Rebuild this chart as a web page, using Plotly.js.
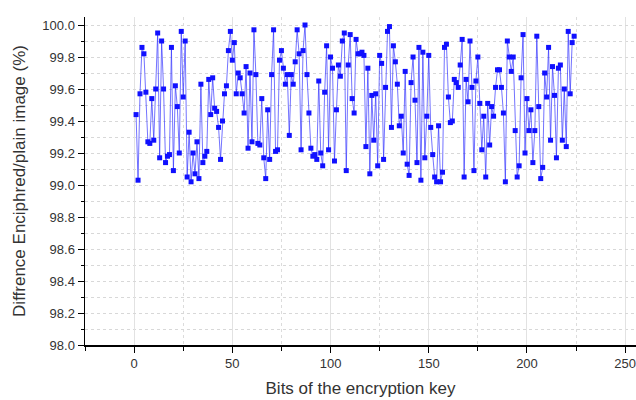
<!DOCTYPE html>
<html>
<head>
<meta charset="utf-8">
<script src="https://cdn.plot.ly/plotly-3.0.1.min.js"></script>
<style>html,body{margin:0;padding:0;background:#fff;}#chart{width:636px;height:400px;}</style>
</head>
<body>
<div id="chart"></div>
<script>
// Difference values (%) for key bits 1..224
const values = [
  99.44, 99.03, 99.57, 99.86, 99.82, 99.58, 99.27, 99.26, 99.54, 99.28, 99.60, 99.95, 99.17, 99.90, 99.60, 99.14, 99.18, 99.19, 99.86, 99.09, 99.62, 99.49, 99.20, 99.96,
  99.55, 99.90, 99.05, 99.33, 99.02, 99.20, 99.07, 99.27, 99.04, 99.63, 99.14, 99.18, 99.21, 99.66, 99.44, 99.67, 99.48, 99.46, 99.36, 99.16, 99.40, 99.57, 99.62, 99.84,
  99.96, 99.78, 99.89, 99.57, 99.70, 99.67, 99.57, 99.45, 99.74, 99.23, 99.70, 99.27, 99.97, 99.69, 99.26, 99.25, 99.54, 99.17, 99.04, 99.47, 99.16, 99.69, 99.97, 99.21,
  99.22, 99.78, 99.84, 99.73, 99.63, 99.69, 99.31, 99.69, 99.63, 99.77, 99.97, 99.82, 99.22, 99.84, 100.0, 99.69, 99.45, 99.23, 99.18, 99.19, 99.16, 99.65, 99.20,
  99.12, 99.58, 99.87, 99.22, 99.80, 99.73, 99.15, 99.47, 99.75, 99.68, 99.90, 99.95, 99.09, 99.75, 99.94, 99.54, 99.45, 99.91, 99.82, 99.82, 99.83, 99.81, 99.24, 99.73,
  99.07, 99.56, 99.28, 99.57, 99.12, 99.81, 99.76, 99.16, 99.61, 99.96, 99.99, 99.36, 99.87, 99.77, 99.63, 99.37, 99.43, 99.20, 99.71, 99.13, 99.06, 99.64, 99.80, 99.53, 99.14, 99.86,
  99.03, 99.83, 99.17, 99.43, 99.81, 99.36, 99.19, 99.05, 99.02, 99.37, 99.02, 99.08, 99.86, 99.88, 99.55, 99.39, 99.40, 99.66, 99.64, 99.61, 99.75, 99.91, 99.05, 99.66,
  99.52, 99.90, 99.61, 99.09, 99.65, 99.80, 99.51, 99.22, 99.43, 99.05, 99.51, 99.25, 99.49, 99.43, 99.61, 99.72, 99.72, 99.61, 99.45, 99.02, 99.90, 99.80, 99.71, 99.80,
  99.34, 99.05, 99.12, 99.67, 99.94, 99.20, 99.54, 99.34, 99.47, 99.14, 99.34, 99.93, 99.49, 99.04, 99.11, 99.70, 99.55, 99.86, 99.28, 99.74, 99.56, 99.17, 99.73, 99.75, 99.28,
  99.60, 99.24, 99.96, 99.57, 99.89, 99.93
];
const bits = values.map((v, i) => i + 1);

const xTitle = "Bits of the encryption key";
const yTitle = "Diffrence Enciphred/plain image (%)";

const trace = {
  x: bits,
  y: values,
  type: "scatter",
  mode: "lines+markers",
  line: {color: "rgba(40,40,255,0.65)", width: 1},
  marker: {symbol: "square", size: 5, color: "#1010ff"},
  hoverinfo: "x+y"
};

const layout = {
  width: 636,
  height: 400,
  margin: {l: 85, r: 0, t: 17, b: 55},
  paper_bgcolor: "#fff",
  plot_bgcolor: "#fff",
  showlegend: false,
  font: {family: "Liberation Sans, Arial, sans-serif", color: "#333", size: 13},
  xaxis: {
    range: [-25, 255.5],
    dtick: 50,
    tick0: 0,
    ticks: "outside",
    ticklen: 6,
    tickcolor: "#000",
    ticklabeloverflow: "allow",
    showline: true,
    linecolor: "#000",
    linewidth: 1.5,
    zeroline: false,
    showgrid: true,
    gridcolor: "#e2e2e2",
    gridwidth: 1,
    minor: {dtick: 25, ticks: "outside", ticklen: 4, tickcolor: "#000", showgrid: true, gridcolor: "#dcdcdc", griddash: "dot"},
    title: {text: xTitle, font: {size: 17, color: "#333"}, standoff: 12}
  },
  yaxis: {
    range: [98, 100.05],
    dtick: 0.2,
    tick0: 98,
    tickformat: ".1f",
    ticks: "outside",
    ticklen: 6,
    tickcolor: "#000",
    showline: true,
    linecolor: "#000",
    linewidth: 1.5,
    zeroline: false,
    showgrid: true,
    gridcolor: "#d8d8d8",
    griddash: "dot",
    minor: {dtick: 0.1, ticks: "outside", ticklen: 3, tickcolor: "#000", showgrid: true, gridcolor: "#d8d8d8", griddash: "dot"},
    title: {text: yTitle, font: {size: 17, color: "#333"}, standoff: 12}
  }
};

Plotly.newPlot("chart", [trace], layout, {displayModeBar: false, staticPlot: true});
</script>
</body>
</html>
